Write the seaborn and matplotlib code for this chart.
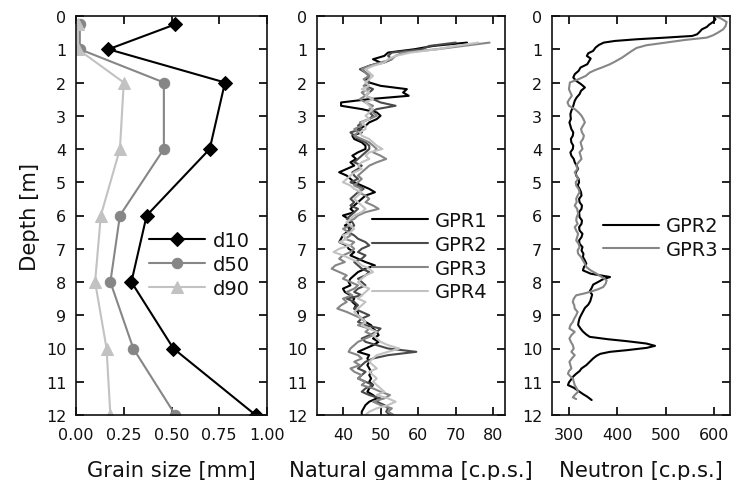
import numpy as np
import matplotlib
matplotlib.use('Agg')
import matplotlib.pyplot as plt
import seaborn as sns

# grain size profile (depth in m, grain size in mm)
grain_depth = [0.25, 1.0, 2.0, 4.0, 6.0, 8.0, 10.0, 12.0]
d10 = [0.52, 0.17, 0.78, 0.70, 0.37, 0.29, 0.51, 0.94]
d50 = [0.02, 0.02, 0.46, 0.46, 0.23, 0.18, 0.30, 0.52]
d90 = [0.01, 0.01, 0.25, 0.23, 0.13, 0.10, 0.16, 0.18]

# natural gamma logs, sampled every 0.1 m from 0.8 m to 12.0 m
gamma_depth = [0.8, 0.9,
               1.0, 1.1, 1.2, 1.3, 1.4, 1.5, 1.6, 1.7, 1.8, 1.9,
               2.0, 2.1, 2.2, 2.3, 2.4, 2.5, 2.6, 2.7, 2.8, 2.9,
               3.0, 3.1, 3.2, 3.3, 3.4, 3.5, 3.6, 3.7, 3.8, 3.9,
               4.0, 4.1, 4.2, 4.3, 4.4, 4.5, 4.6, 4.7, 4.8, 4.9,
               5.0, 5.1, 5.2, 5.3, 5.4, 5.5, 5.6, 5.7, 5.8, 5.9,
               6.0, 6.1, 6.2, 6.3, 6.4, 6.5, 6.6, 6.7, 6.8, 6.9,
               7.0, 7.1, 7.2, 7.3, 7.4, 7.5, 7.6, 7.7, 7.8, 7.9,
               8.0, 8.1, 8.2, 8.3, 8.4, 8.5, 8.6, 8.7, 8.8, 8.9,
               9.0, 9.1, 9.2, 9.3, 9.4, 9.5, 9.6, 9.7, 9.8, 9.9,
               10.0, 10.1, 10.2, 10.3, 10.4, 10.5, 10.6, 10.7, 10.8, 10.9,
               11.0, 11.1, 11.2, 11.3, 11.4, 11.5, 11.6, 11.7, 11.8, 11.9,
               12.0]
gamma_gpr1 = [73, 64,
              59, 52, 51, 48, 50, 47, 45, 46, 47, 46,
              47, 50, 57, 56, 57.5, 47, 39.5, 39.5, 45, 49,
              50, 49, 47, 46, 44, 45, 42.5, 43, 45, 46,
              46, 44, 42.5, 43.5, 42, 43, 41, 39, 41, 42,
              43, 45, 47, 48.5, 46, 45, 44, 43, 42, 43,
              40, 41.5, 42, 40.5, 42, 41, 40, 39.5, 39, 41,
              41.5, 43, 42, 44, 46, 48.5, 46, 44, 43, 42,
              41.5, 42, 40, 40.5, 42, 43, 42.5, 43.5, 43, 44,
              44, 45, 46, 47.5, 48, 49, 49.5, 48, 49.5, 48,
              46, 44, 47, 46.5, 47, 46.5, 47, 47.5, 47, 47.5,
              47, 48, 47, 46.5, 48, 49, 47, 46, 45.5, 45,
              45]
gamma_gpr2 = [70, 63,
              61, 53, 52, 53, 51, 47, 44.5, 46, 47, 46.5,
              47, 46, 48, 47, 46, 48, 50, 54, 49, 47,
              48, 47, 45, 44, 45, 42, 43, 44, 46, 47,
              47, 46, 45, 44, 43, 45, 44, 42.5, 43, 44,
              42, 44, 45.5, 44, 43, 42, 43, 42, 44, 43,
              42, 41, 42.5, 43, 42, 41.5, 43, 44, 46, 47,
              45, 44, 46, 45, 43, 44, 45, 47, 46, 44,
              45, 46, 44, 43, 45, 41, 43, 44, 43, 45,
              47, 45, 44, 46, 50, 49, 47, 45, 46, 49,
              52, 59.5, 52, 48, 46, 45, 44, 46, 45, 44,
              46, 48, 46, 45, 47, 50, 49, 51, 52, 51.5,
              52.5]
gamma_gpr3 = [79, 72,
              65, 56, 54, 53, 50, 47, 45, 46, 47, 45.5,
              46.5, 45.5, 47, 45, 46, 44.5, 46, 48, 47, 48,
              49, 47, 44.5, 45, 43, 44, 43, 45, 47, 48,
              49, 48, 50, 51.5, 49, 47, 46, 45, 44, 45,
              44, 43, 45, 44, 46, 47, 46, 48, 49.5, 46,
              44, 43, 41, 42, 40, 41.5, 42, 40.5, 43, 42,
              43, 42, 40, 39, 40.5, 38, 37, 39, 41, 40,
              42, 44, 43, 41, 42.5, 40, 41, 39.5, 38.5, 41,
              43, 45, 46, 44, 47, 46, 48, 46, 44, 43,
              42, 41.5, 44, 45, 43, 44.5, 42, 43, 45, 44,
              46, 45, 48, 50, 52.5, 51, 48, 50, 53, 52,
              53.5]
gamma_gpr4 = [76, 70,
              65, 58, 54, 52, 51, 48, 46, 47, 48, 47,
              46, 47, 45, 47, 46, 48, 46, 47, 48, 47,
              46, 47, 45, 46, 46, 44.5, 45, 47, 48, 49,
              50.5, 47, 46, 47, 45, 44, 45, 43, 42, 41,
              40, 42, 43, 45, 44, 43, 44, 45, 46, 45,
              43, 42, 41, 42, 43, 42, 40, 41, 39, 42,
              39, 37.5, 40, 42, 44, 45, 47, 48, 46, 45,
              44, 45, 47, 46, 45, 44, 46, 45, 44, 43,
              44, 45, 46, 45, 47, 49, 48, 49, 50, 52,
              55, 52, 49, 48, 47, 48, 49, 47, 48, 49,
              48, 49, 50, 51, 49, 52, 54, 52, 49, 47,
              46]

# neutron logs
neutron_depth_gpr2 = [0.03, 0.10, 0.18, 0.26, 0.33, 0.40, 0.48, 0.55, 0.60, 0.65,
                      0.70, 0.75, 0.80, 0.87, 0.95, 1.05, 1.12, 1.20, 1.28, 1.35,
                      1.45, 1.55, 1.65, 1.75, 1.85, 1.95, 2.05, 2.15, 2.25, 2.35,
                      2.45, 2.55, 2.65, 2.75, 2.85, 2.95, 3.10, 3.20, 3.30, 3.40,
                      3.50, 3.60, 3.70, 3.80, 3.90, 4.00, 4.10, 4.20, 4.30, 4.40,
                      4.50, 4.60, 4.70, 4.80, 4.90, 5.00, 5.10, 5.20, 5.30, 5.40,
                      5.50, 5.60, 5.70, 5.80, 5.90, 6.05, 6.15, 6.25, 6.35, 6.45,
                      6.55, 6.65, 6.75, 6.85, 6.95, 7.05, 7.15, 7.25, 7.35, 7.45,
                      7.55, 7.65, 7.75, 7.85, 7.92, 7.97, 8.08, 8.18, 8.28, 8.38,
                      8.48, 8.58, 8.68, 8.78, 8.89, 9.00, 9.09, 9.20, 9.29, 9.40,
                      9.49, 9.58, 9.65, 9.72, 9.78, 9.85, 9.92, 9.98, 10.05, 10.10,
                      10.16, 10.22, 10.30, 10.40, 10.50, 10.60, 10.68, 10.76, 10.84, 10.92,
                      11.02, 11.10, 11.18, 11.26, 11.37, 11.45, 11.55]
neutron_gpr2 = [600, 603, 598, 590, 585, 575, 570, 565, 555, 500,
                440, 395, 372, 362, 355, 350, 340, 337, 345, 342,
                338, 324, 320, 312, 309, 315, 325, 333, 325, 322,
                316, 312, 310, 308, 305, 303, 304, 301, 303, 305,
                309, 308, 304, 305, 309, 308, 303, 305, 310, 312,
                316, 319, 314, 315, 320, 321, 318, 322, 325, 326,
                321, 322, 327, 326, 321, 322, 327, 326, 321, 322,
                328, 326, 321, 322, 328, 326, 330, 329, 333, 336,
                331, 329, 345, 385, 370, 364, 350, 347, 343, 348,
                346, 344, 340, 333, 329, 325, 322, 320, 319, 324,
                329, 336, 343, 380, 420, 460, 478, 461, 420, 385,
                365, 357, 350, 343, 336, 326, 322, 315, 309, 305,
                300, 298, 310, 318, 329, 338, 347]

neutron_depth_gpr3 = [0.00, 0.08, 0.18, 0.30, 0.40, 0.50, 0.58, 0.65, 0.72, 0.80,
                      0.88, 0.96, 1.05, 1.15, 1.25, 1.35, 1.45, 1.55, 1.62, 1.70,
                      1.80, 1.90, 2.00, 2.10, 2.20, 2.30, 2.40, 2.50, 2.60, 2.70,
                      2.80, 2.90, 3.00, 3.10, 3.20, 3.30, 3.40, 3.50, 3.60, 3.70,
                      3.80, 3.90, 4.00, 4.10, 4.20, 4.30, 4.40, 4.50, 4.60, 4.70,
                      4.80, 4.90, 5.00, 5.10, 5.20, 5.30, 5.40, 5.50, 5.60, 5.70,
                      5.80, 5.95, 6.05, 6.15, 6.25, 6.35, 6.45, 6.55, 6.65, 6.75,
                      6.85, 6.95, 7.05, 7.15, 7.25, 7.35, 7.45, 7.55, 7.65, 7.75,
                      7.85, 7.95, 8.05, 8.15, 8.22, 8.30, 8.35, 8.40, 8.50, 8.60,
                      8.70, 8.80, 8.90, 9.00, 9.10, 9.20, 9.30, 9.40, 9.50, 9.60,
                      9.70, 9.80, 9.90, 10.00, 10.10, 10.20, 10.30, 10.40, 10.50, 10.60,
                      10.68, 10.76, 10.84, 10.90, 11.00, 11.10, 11.20, 11.30, 11.40, 11.47,
                      11.52]
neutron_gpr3 = [603, 615, 626, 624, 619, 608, 598, 585, 540, 500,
                460, 440, 430, 420, 410, 398, 385, 368, 355, 343,
                335, 320, 302, 301, 300, 303, 306, 301, 297, 300,
                312, 320, 326, 330, 333, 329, 325, 327, 331, 329,
                324, 326, 328, 322, 324, 326, 320, 315, 318, 312,
                316, 319, 314, 315, 320, 322, 318, 315, 316, 312,
                317, 319, 316, 315, 318, 312, 315, 319, 317, 315,
                320, 322, 318, 319, 325, 329, 333, 336, 345, 357,
                368, 378, 376, 371, 360, 343, 330, 315, 310, 308,
                311, 312, 318, 315, 311, 308, 303, 301, 312, 305,
                301, 304, 308, 310, 305, 312, 306, 301, 303, 305,
                300, 298, 303, 308, 310, 312, 316, 319, 312, 308,
                315]

sns.set_style('ticks')
plt.rcParams['font.family'] = ['DejaVu Sans']
plt.rcParams['axes.linewidth'] = 1.2
plt.rcParams['axes.edgecolor'] = '#111111'
plt.rcParams['text.color'] = '#111111'
plt.rcParams['axes.labelcolor'] = '#111111'
plt.rcParams['xtick.color'] = '#111111'
plt.rcParams['ytick.color'] = '#111111'

BLACK = '#000000'
DARK = '#4a4a4a'
MID = '#868686'
LIGHT = '#c2c2c2'

fig = plt.figure(figsize=(7.32, 4.81), dpi=100)
bottom = 65 / 481
height = 399 / 481
ax1 = fig.add_axes([76 / 732, bottom, 191 / 732, height])
ax2 = fig.add_axes([317 / 732, bottom, 188 / 732, height])
ax3 = fig.add_axes([552 / 732, bottom, 178 / 732, height])

# panel 1: grain size
sns.lineplot(x=d10, y=grain_depth, orient='y', ax=ax1, color=BLACK, lw=1.5,
             marker='D', markersize=7, markeredgecolor=BLACK, label='d10')
sns.lineplot(x=d50, y=grain_depth, orient='y', ax=ax1, color=MID, lw=1.5,
             marker='o', markersize=7.5, markeredgecolor=MID, label='d50')
sns.lineplot(x=d90, y=grain_depth, orient='y', ax=ax1, color=LIGHT, lw=1.5,
             marker='^', markersize=8, markeredgecolor=LIGHT, label='d90')
ax1.set_xlim(0, 1.0)
ax1.set_xticks([0, 0.25, 0.5, 0.75, 1.0])
ax1.set_xticklabels(['0.00', '0.25', '0.50', '0.75', '1.00'])
ax1.set_xlabel('Grain size [mm]')
ax1.set_ylabel('Depth [m]')

# panel 2: natural gamma
for vals, col, lab in [(gamma_gpr1, BLACK, 'GPR1'), (gamma_gpr2, DARK, 'GPR2'),
                       (gamma_gpr3, MID, 'GPR3'), (gamma_gpr4, LIGHT, 'GPR4')]:
    sns.lineplot(x=vals, y=gamma_depth, orient='y', ax=ax2, color=col,
                 lw=1.5, label=lab)
ax2.set_xlim(33.1, 83.1)
ax2.set_xticks([40, 50, 60, 70, 80])
ax2.set_xlabel('Natural gamma [c.p.s.]')
ax2.set_ylabel('')

# panel 3: neutron
sns.lineplot(x=neutron_gpr2, y=neutron_depth_gpr2, orient='y', ax=ax3,
             color=BLACK, lw=1.5, label='GPR2')
sns.lineplot(x=neutron_gpr3, y=neutron_depth_gpr3, orient='y', ax=ax3,
             color=MID, lw=1.5, label='GPR3')
ax3.set_xlim(265, 633)
ax3.set_xticks([300, 400, 500, 600])
ax3.set_xlabel('Neutron [c.p.s.]')
ax3.set_ylabel('')

for ax in (ax1, ax2, ax3):
    ax.set_ylim(12, 0)
    ax.set_yticks(range(0, 13))
    ax.tick_params(direction='in', top=True, right=True, length=6, width=1.3,
                   labelsize=11.5, pad=7)
    ax.tick_params(axis='x', pad=8.5)
    ax.xaxis.label.set_size(15.2)
    ax.yaxis.label.set_size(15.2)
    ax.xaxis.labelpad = 13

legend_kw = dict(frameon=False, fontsize=14, handlelength=2.85, handletextpad=0.4,
                 labelspacing=0.25, borderpad=0, borderaxespad=0, loc='center left')
ax1.legend(bbox_to_anchor=(0.384, 0.377), **legend_kw)
ax2.legend(bbox_to_anchor=(0.293, 0.398), **legend_kw)
ax3.legend(bbox_to_anchor=(0.287, 0.444), **legend_kw)

plt.savefig('out.png', dpi=100)
